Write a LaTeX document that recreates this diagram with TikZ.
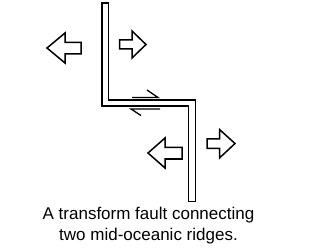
\documentclass[tikz,border=0pt]{standalone}
\usepackage{fontspec}
\setmainfont{Liberation Sans}

\begin{document}
\begin{tikzpicture}[x=1pt,y=-1pt,line join=miter]
\useasboundingbox (0,0) rectangle (310,248);
% ridges and transform fault
\coordinate (A) at (102,3); \coordinate (B) at (108.5,3);
\coordinate (C) at (188.5,106); \coordinate (D) at (195.5,201.5);
\draw[line width=1.6pt] (A)--(A|-C)--(C)--(C|-D)--(D)--(D|-100,100)--(B|-100,100)--(B)--cycle;
% spreading directions
\draw[line width=1.5pt] (47,48)--(65,33)--(65,42.5)--(81,42.5)--(81,54)--(65,54)--(65,63)--cycle;
\draw[line width=1.5pt] (146,44.5)--(132,31)--(132,40)--(119.5,40)--(119.5,49)--(132,49)--(132,58)--cycle;
\draw[line width=1.5pt] (148,153)--(165,138)--(165,147.5)--(182,147.5)--(182,159)--(165,159)--(165,168)--cycle;
\draw[line width=1.5pt] (235,143.5)--(219.5,129.5)--(219.5,139)--(207,139)--(207,148.5)--(219.5,148.5)--(219.5,158)--cycle;
% sense of slip
\draw[line width=1.3pt] (132,97.5)--(158,97.5)--(147,90);
\draw[line width=1.3pt] (160,109)--(131,109)--(141,115.5);
\node[align=center,font=\fontsize{17}{21}\selectfont] (cap) at (148.5,225.5) {A transform fault connecting\\two mid-oceanic ridges.};
\end{tikzpicture}
\end{document}
